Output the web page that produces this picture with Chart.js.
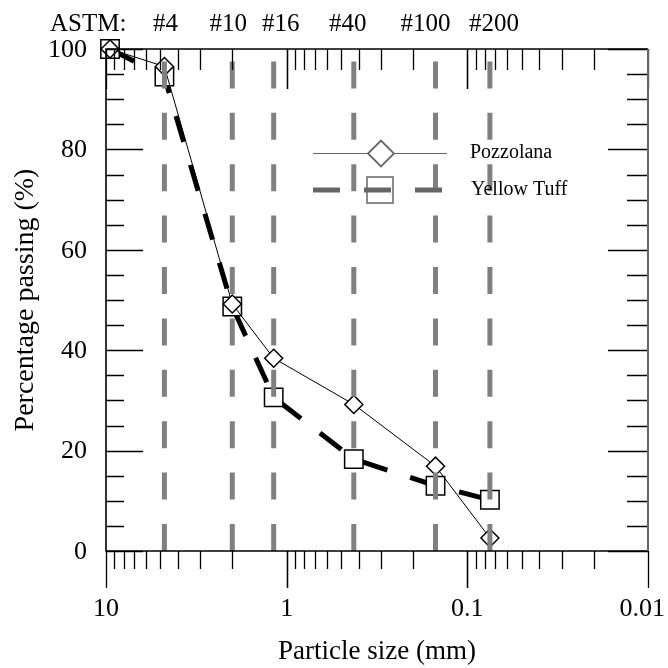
<!DOCTYPE html>
<html>
<head>
<meta charset="utf-8">
<script src="https://cdn.jsdelivr.net/npm/chart.js@4"></script>
<style>
  html, body { margin: 0; padding: 0; background: #fff; }
  canvas { display: block; }
</style>
</head>
<body>
<canvas id="chart" width="668" height="668"></canvas>
<script>
// sieve sizes (mm) where samples were taken
const sieveSizes = [9.5, 4.75, 2.0, 1.18, 0.425, 0.15, 0.075];
const pozzolana = [100, 96.5, 49.2, 38.4, 29.2, 16.9, 2.6];
const yellowTuff = [100, 94.5, 48.7, 30.6, 18.3, 13.0, 10.2];

// ASTM sieve marks along the top
const astmLabels = ["#4", "#10", "#16", "#40", "#100", "#200"];
const astmSizes = [4.75, 2.0, 1.18, 0.425, 0.15, 0.075];

const xTickValues = [10, 1, 0.1, 0.01];
const xTickLabels = ["10", "1", "0.1", "0.01"];
const yTickValues = [0, 20, 40, 60, 80, 100];
const yTickLabels = ["0", "20", "40", "60", "80", "100"];

const seriesNames = ["Pozzolana", "Yellow Tuff"];

const FONT = "'Liberation Serif', 'Times New Roman', serif";
// small horizontal nudges so the sieve labels don't collide
const astmNudge = [1, -4, 7, -6, -10, 4];

function toPoints(ys) {
  return sieveSizes.map((x, i) => ({ x: x, y: ys[i] }));
}

function diamond(ctx, x, y, r) {
  ctx.beginPath();
  ctx.moveTo(x - r, y);
  ctx.lineTo(x, y - r);
  ctx.lineTo(x + r, y);
  ctx.lineTo(x, y + r);
  ctx.closePath();
}

const frame = {
  id: "frame",
  afterDatasetsDraw(chart) {
    const { ctx, chartArea: a, scales } = chart;
    const x = scales.x, y = scales.y;
    ctx.save();

    // gray dashed sieve lines
    ctx.strokeStyle = "#808080";
    ctx.lineWidth = 5;
    ctx.setLineDash([27, 24.4]);
    astmSizes.forEach((s) => {
      const px = x.getPixelForValue(s);
      ctx.beginPath();
      ctx.moveTo(px, a.bottom);
      ctx.lineTo(px, a.top);
      ctx.stroke();
    });
    ctx.setLineDash([]);

    // log ticks, top inward and bottom outward
    ctx.strokeStyle = "#000";
    ctx.lineWidth = 1.3;
    for (let d = 0.01; d < 10; d *= 10) {
      for (let m = 1; m <= 10; m++) {
        const px = Math.round(x.getPixelForValue(d * m)) + 0.5;
        const major = m === 1 || m === 10;
        ctx.beginPath();
        ctx.moveTo(px, a.top);
        ctx.lineTo(px, a.top + (major ? 40 : 21));
        ctx.moveTo(px, a.bottom);
        ctx.lineTo(px, a.bottom + (major ? 37 : 18));
        ctx.stroke();
      }
    }

    // y ticks every 5, inward on both sides
    for (let v = 0; v <= 100; v += 5) {
      const py = Math.round(y.getPixelForValue(v)) + 0.5;
      const major = v % 20 === 0;
      ctx.beginPath();
      ctx.moveTo(a.left, py);
      ctx.lineTo(a.left + (major ? 37 : 18), py);
      ctx.moveTo(a.right, py);
      ctx.lineTo(a.right - (major ? 40 : 21), py);
      ctx.stroke();
    }

    // frame
    ctx.lineWidth = 1.6;
    ctx.beginPath();
    ctx.moveTo(a.right, a.top);
    ctx.lineTo(a.left, a.top);
    ctx.lineTo(a.left, a.bottom);
    ctx.lineTo(a.right, a.bottom);
    ctx.stroke();
    ctx.strokeStyle = "#666";
    ctx.lineWidth = 2;
    ctx.beginPath();
    ctx.moveTo(a.right, a.top);
    ctx.lineTo(a.right, a.bottom);
    ctx.stroke();

    // tick labels
    ctx.fillStyle = "#000";
    ctx.font = "26px " + FONT;
    ctx.textAlign = "right";
    ctx.textBaseline = "middle";
    yTickValues.forEach((v, i) => {
      ctx.fillText(yTickLabels[i], a.left - 19, y.getPixelForValue(v) + 1);
    });
    ctx.textAlign = "center";
    ctx.textBaseline = "alphabetic";
    xTickValues.forEach((v, i) => {
      const w = ctx.measureText(xTickLabels[i]).width;
      const px = Math.min(x.getPixelForValue(v), chart.width - w / 2 - 3);
      ctx.fillText(xTickLabels[i], px, 616);
    });

    // ASTM labels
    ctx.font = "25px " + FONT;
    ctx.textAlign = "left";
    ctx.fillText("ASTM:", 50, 31);
    ctx.textAlign = "center";
    astmSizes.forEach((s, i) => {
      ctx.fillText(astmLabels[i], x.getPixelForValue(s) + astmNudge[i], 31);
    });

    // axis titles
    ctx.font = "27px " + FONT;
    ctx.fillText("Particle size (mm)", (a.left + a.right) / 2, 659);
    ctx.save();
    ctx.font = "28px " + FONT;
    ctx.translate(33, (a.top + a.bottom) / 2);
    ctx.rotate(-Math.PI / 2);
    ctx.fillText("Percentage passing (%)", 0, 0);
    ctx.restore();

    // legend
    ctx.lineWidth = 1;
    ctx.beginPath();
    ctx.moveTo(313, 153.5);
    ctx.lineTo(447, 153.5);
    ctx.stroke();
    diamond(ctx, 381, 153.5, 13);
    ctx.fillStyle = "#fff";
    ctx.fill();
    ctx.lineWidth = 1.8;
    ctx.stroke();

    ctx.lineWidth = 5;
    ctx.setLineDash([27, 24]);
    ctx.beginPath();
    ctx.moveTo(313, 190);
    ctx.lineTo(443, 190);
    ctx.stroke();
    ctx.setLineDash([]);
    ctx.lineWidth = 1.5;
    ctx.strokeRect(367, 177, 26, 26);

    ctx.fillStyle = "#000";
    ctx.font = "20px " + FONT;
    ctx.textAlign = "left";
    ctx.textBaseline = "middle";
    ctx.fillText(seriesNames[0], 470, 153);
    ctx.fillText(seriesNames[1], 471, 190);

    ctx.restore();
  }
};

new Chart(document.getElementById("chart"), {
  type: "line",
  data: {
    datasets: [
      {
        label: seriesNames[0],
        data: toPoints(pozzolana),
        borderColor: "#000",
        borderWidth: 1,
        pointStyle: "rectRot",
        pointRadius: 9,
        pointBorderWidth: 1.5,
        pointBorderColor: "#000",
        pointBackgroundColor: "#fff",
        clip: false
      },
      {
        label: seriesNames[1],
        data: toPoints(yellowTuff),
        borderColor: "#000",
        borderWidth: 5,
        borderDash: [27, 24],
        pointStyle: "rect",
        pointRadius: 13,
        pointBorderWidth: 1.5,
        pointBorderColor: "#000",
        pointBackgroundColor: "#fff",
        clip: false
      }
    ]
  },
  options: {
    responsive: false,
    animation: false,
    devicePixelRatio: 1,
    layout: { padding: { left: 106, top: 49, right: 20, bottom: 117 } },
    plugins: { legend: { display: false }, tooltip: { enabled: false } },
    scales: {
      x: { type: "logarithmic", reverse: true, min: 0.01, max: 10, display: false },
      y: { type: "linear", min: 0, max: 100, display: false }
    }
  },
  plugins: [frame]
});
</script>
</body>
</html>
